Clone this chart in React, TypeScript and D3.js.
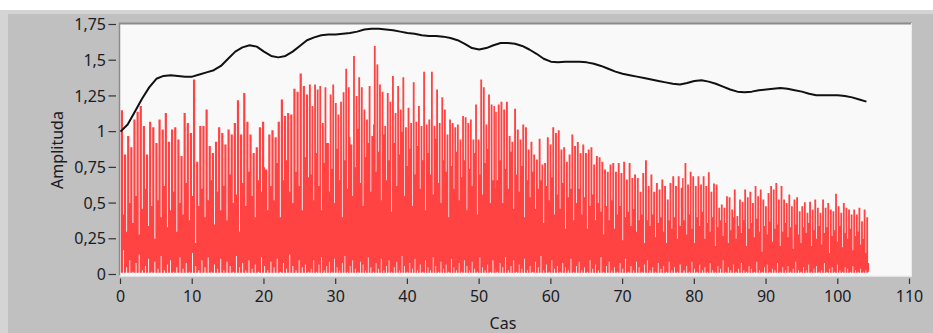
import React from "react";
import * as d3 from "d3";

// ---- data ----
const xTicks = [0, 10, 20, 30, 40, 50, 60, 70, 80, 90, 100, 110];
const yTicks = [0, 0.25, 0.5, 0.75, 1, 1.25, 1.5, 1.75];
const yTickLabels = ["0", "0,25", "0,5", "0,75", "1", "1,25", "1,5", "1,75"];
const xLabel = "Cas";
const yLabel = "Amplituda";

// black envelope, one value per time unit 0..104
const envelope = [
  1.0, 1.05, 1.14, 1.23, 1.31, 1.37, 1.39, 1.395, 1.39, 1.385,
  1.385, 1.4, 1.415, 1.43, 1.46, 1.51, 1.56, 1.59, 1.605, 1.595,
  1.56, 1.53, 1.52, 1.53, 1.56, 1.6, 1.64, 1.66, 1.675, 1.68,
  1.68, 1.685, 1.69, 1.7, 1.715, 1.72, 1.72, 1.715, 1.71, 1.7,
  1.69, 1.685, 1.675, 1.67, 1.67, 1.665, 1.655, 1.64, 1.615, 1.585,
  1.575, 1.585, 1.605, 1.62, 1.62, 1.615, 1.6, 1.575, 1.545, 1.51,
  1.49, 1.485, 1.49, 1.49, 1.49, 1.485, 1.475, 1.46, 1.44, 1.42,
  1.405, 1.395, 1.385, 1.375, 1.365, 1.355, 1.345, 1.335, 1.33, 1.34,
  1.355, 1.36, 1.35, 1.335, 1.315, 1.295, 1.28, 1.275, 1.28, 1.29,
  1.295, 1.3, 1.305, 1.3, 1.29, 1.28, 1.265, 1.255, 1.255, 1.255,
  1.255, 1.25, 1.24, 1.225, 1.21,
];

// red signal: spike tops, gap tops (valleys) and gap bottoms (lows), in four time segments
const segA = [0.2, 26.0];
const peaksA = [
  1.15, 0.84, 0.97, 0.89, 1.085, 1.14, 1.18, 1.04, 0.84, 1.07,
  1.03, 0.92, 1.085, 1.015, 1.13, 0.93, 1.015, 1.03, 0.945, 0.83,
  1.13, 1.06, 0.99, 1.365, 0.79, 1.04, 1.04, 1.155, 0.9, 0.85,
  0.93, 1.03, 0.99, 0.91, 1.015, 0.98, 1.06, 1.22, 0.98, 1.27,
  1.07, 0.98, 0.85, 0.89, 1.03, 1.07, 0.735, 0.98, 1.01, 0.96,
  1.07, 1.225, 1.11, 1.13, 1.12, 1.3, 1.28, 1.407, 1.32, 1.26,
];
const valleysA = [
  0.42, 0.3, 0.5, 0.36, 0.55, 0.28, 0.46, 0.6, 0.34, 0.48,
  0.25, 0.52, 0.4, 0.62, 0.33, 0.45, 0.58, 0.3, 0.5, 0.42,
  0.64, 0.38, 0.55, 0.22, 0.48, 0.6, 0.4, 0.52, 0.66, 0.35,
  0.58, 0.45, 0.62, 0.38, 0.7, 0.5, 0.56, 0.3, 0.64, 0.48,
  0.72, 0.55, 0.4, 0.66, 0.58, 0.75, 0.45, 0.62, 0.52, 0.78,
  0.4, 0.66, 0.8, 0.58, 0.5, 0.72, 0.62, 0.45, 0.82, 0.68,
];
const lowsA = [
  0.17, 0.05, 0.1, 0.02, 0.08, 0.14, 0.03, 0.06, 0.11, 0.02,
  0.09, 0.04, 0.13, 0.03, 0.07, 0.1, 0.02, 0.05, 0.12, 0.04,
  0.08, 0.02, 0.15, 0.06, 0.03, 0.1, 0.05, 0.12, 0.02, 0.07,
  0.04, 0.11, 0.03, 0.09, 0.06, 0.02, 0.13, 0.05, 0.08, 0.03,
  0.1, 0.04, 0.07, 0.02, 0.12, 0.06, 0.03, 0.09, 0.05, 0.11,
  0.02, 0.08, 0.04, 0.14, 0.06, 0.03, 0.1, 0.05, 0.07, 0.02,
];

const segB = [26.4, 52.1];
const peaksB = [
  1.33, 1.18, 1.33, 1.295, 1.32, 1.06, 1.31, 0.92, 1.26, 1.33,
  1.2, 1.12, 1.21, 1.276, 1.44, 1.31, 0.91, 1.53, 1.25, 1.38,
  1.31, 1.155, 1.085, 1.32, 0.97, 1.6, 1.47, 1.33, 1.28, 1.04,
  1.27, 1.21, 1.39, 1.13, 1.32, 1.155, 1.38, 1.03, 1.167, 1.06,
  1.346, 1.07, 1.18, 1.04, 1.42, 1.05, 1.085, 1.42, 1.04, 1.295,
  1.06, 1.24, 1.155, 0.98, 1.085, 1.06, 1.03, 1.05, 0.945, 1.11,
  1.1, 1.06, 1.085, 0.945, 1.19, 0.945, 1.365, 1.31, 1.05, 1.26,
  1.19, 1.18,
];
const valleysB = [
  0.7, 0.52, 0.85, 0.62, 0.45, 0.78, 0.92, 0.58, 0.74, 0.5,
  0.88, 0.66, 0.4, 0.8, 0.6, 0.96, 0.55, 0.75, 1.02, 0.64,
  0.48, 0.82, 0.92, 0.58, 1.05, 0.72, 0.86, 0.52, 0.98, 0.66,
  0.8, 0.44, 0.92, 0.62, 0.84, 1.0, 0.55, 0.76, 0.88, 0.48,
  0.7, 0.9, 0.6, 0.8, 0.45, 0.85, 0.7, 0.56, 0.95, 0.64,
  0.5, 0.8, 0.72, 0.4, 0.76, 0.6, 0.86, 0.52, 0.68, 0.8,
  0.45, 0.74, 0.62, 0.85, 0.42, 0.7, 0.56, 0.78, 0.88, 0.5,
  0.66, 0.6,
];
const lowsB = [
  0.04, 0.1, 0.02, 0.07, 0.12, 0.03, 0.06, 0.09, 0.02, 0.11,
  0.05, 0.03, 0.08, 0.13, 0.02, 0.06, 0.1, 0.04, 0.02, 0.09,
  0.07, 0.03, 0.12, 0.05, 0.02, 0.08, 0.04, 0.11, 0.03, 0.06,
  0.1, 0.02, 0.05, 0.09, 0.03, 0.13, 0.06, 0.02, 0.08, 0.04,
  0.11, 0.03, 0.07, 0.02, 0.1, 0.05, 0.03, 0.12, 0.06, 0.02,
  0.09, 0.04, 0.07, 0.02, 0.11, 0.05, 0.03, 0.08, 0.02, 0.1,
  0.06, 0.03, 0.09, 0.04, 0.02, 0.12, 0.05, 0.03, 0.07, 0.02,
  0.1, 0.04,
];

const segC = [52.35, 78.2];
const peaksC = [
  1.14, 1.19, 1.21, 1.155, 1.21, 0.97, 0.93, 1.16, 1.015, 0.945,
  1.05, 1.03, 0.875, 0.93, 0.84, 0.805, 0.95, 0.77, 0.78, 0.96,
  0.91, 1.03, 0.99, 1.01, 0.875, 0.89, 0.79, 0.84, 0.98, 0.9,
  0.927, 0.85, 0.91, 0.85, 0.875, 0.89, 0.77, 0.83, 0.82, 0.79,
  0.735, 0.72, 0.77, 0.78, 0.72, 0.78, 0.71, 0.79, 0.665, 0.78,
  0.675, 0.7, 0.675, 0.58, 0.71, 0.8, 0.62, 0.7, 0.58, 0.64,
  0.595, 0.665, 0.62, 0.525, 0.64, 0.688, 0.62, 0.688, 0.607,
];
const valleysC = [
  0.66, 0.8, 0.5, 0.74, 0.6, 0.86, 0.46, 0.7, 0.58, 0.76,
  0.4, 0.66, 0.54, 0.72, 0.46, 0.6, 0.66, 0.36, 0.62, 0.52,
  0.68, 0.42, 0.56, 0.46, 0.64, 0.32, 0.54, 0.6, 0.38, 0.5,
  0.6, 0.42, 0.54, 0.32, 0.48, 0.56, 0.38, 0.5, 0.44, 0.28,
  0.48, 0.38, 0.52, 0.32, 0.42, 0.48, 0.24, 0.4, 0.44, 0.34,
  0.46, 0.3, 0.38, 0.42, 0.22, 0.38, 0.34, 0.42, 0.26, 0.36,
  0.4, 0.3, 0.22, 0.38, 0.32, 0.4, 0.25, 0.34, 0.3,
];
const lowsC = [
  0.02, 0.08, 0.05, 0.12, 0.03, 0.06, 0.1, 0.02, 0.07, 0.04,
  0.11, 0.03, 0.06, 0.02, 0.09, 0.05, 0.13, 0.03, 0.07, 0.02,
  0.1, 0.04, 0.06, 0.02, 0.08, 0.05, 0.03, 0.11, 0.02, 0.06,
  0.09, 0.03, 0.05, 0.02, 0.1, 0.04, 0.07, 0.03, 0.12, 0.02,
  0.06, 0.09, 0.03, 0.05, 0.02, 0.08, 0.04, 0.11, 0.02, 0.06,
  0.03, 0.09, 0.05, 0.02, 0.07, 0.1, 0.03, 0.05, 0.02, 0.08,
  0.04, 0.06, 0.02, 0.09, 0.03, 0.05, 0.02, 0.07, 0.04,
];

const segD = [78.4, 104.1];
const peaksD = [
  0.675, 0.78, 0.63, 0.72, 0.688, 0.62, 0.688, 0.63, 0.688, 0.62,
  0.716, 0.58, 0.637, 0.63, 0.467, 0.49, 0.467, 0.548, 0.54, 0.455,
  0.595, 0.41, 0.525, 0.51, 0.595, 0.54, 0.58, 0.5, 0.62, 0.548,
  0.595, 0.525, 0.478, 0.57, 0.62, 0.595, 0.64, 0.525, 0.62, 0.525,
  0.5, 0.56, 0.478, 0.525, 0.54, 0.443, 0.478, 0.505, 0.432, 0.51,
  0.455, 0.525, 0.467, 0.432, 0.525, 0.467, 0.5, 0.455, 0.443, 0.565,
  0.478, 0.432, 0.5, 0.467, 0.455, 0.42, 0.455, 0.42, 0.467, 0.373,
  0.455, 0.4,
];
const valleysD = [
  0.38, 0.28, 0.42, 0.32, 0.22, 0.4, 0.34, 0.44, 0.25, 0.36,
  0.3, 0.4, 0.2, 0.33, 0.38, 0.27, 0.36, 0.22, 0.31, 0.4,
  0.25, 0.34, 0.29, 0.38, 0.2, 0.32, 0.36, 0.26, 0.39, 0.3,
  0.16, 0.34, 0.28, 0.37, 0.23, 0.32, 0.35, 0.2, 0.3, 0.36,
  0.26, 0.33, 0.18, 0.35, 0.28, 0.22, 0.33, 0.29, 0.36, 0.2,
  0.31, 0.25, 0.34, 0.21, 0.29, 0.33, 0.15, 0.27, 0.31, 0.23,
  0.34, 0.19, 0.29, 0.25, 0.32, 0.17, 0.27, 0.3, 0.21, 0.25,
  0.15, 0.08,
];
const lowsD = [
  0.03, 0.06, 0.02, 0.09, 0.04, 0.02, 0.07, 0.03, 0.05, 0.02,
  0.08, 0.03, 0.02, 0.06, 0.04, 0.1, 0.02, 0.05, 0.03, 0.07,
  0.02, 0.04, 0.08, 0.03, 0.02, 0.06, 0.04, 0.02, 0.09, 0.03,
  0.02, 0.05, 0.07, 0.02, 0.04, 0.03, 0.08, 0.02, 0.05, 0.03,
  0.06, 0.02, 0.04, 0.09, 0.03, 0.02, 0.05, 0.03, 0.07, 0.02,
  0.04, 0.06, 0.02, 0.03, 0.08, 0.02, 0.04, 0.05, 0.02, 0.07,
  0.03, 0.02, 0.05, 0.04, 0.02, 0.06, 0.03, 0.02, 0.04, 0.02,
  0.03, 0.02,
];

const segments = [
  { range: segA, peaks: peaksA, valleys: valleysA, lows: lowsA },
  { range: segB, peaks: peaksB, valleys: valleysB, lows: lowsB },
  { range: segC, peaks: peaksC, valleys: valleysC, lows: lowsC },
  { range: segD, peaks: peaksD, valleys: valleysD, lows: lowsD },
];

// ---- layout ----
const W = 933;
const H = 333;
const FONT = "'Segoe UI', 'Noto Sans', sans-serif";
const TEXT = "#1b1b24";

export default function App() {
  const x = d3.scaleLinear().domain([0, 110]).range([120.5, 909.5]);
  const y = d3.scaleLinear().domain([0, 1.75]).range([274.5, 24.5]);

  const spikes: { t: number; peak: number; valley: number; low: number }[] = [];
  segments.forEach((s) => {
    const n = s.peaks.length;
    s.peaks.forEach((p, i) => {
      const t = s.range[0] + ((s.range[1] - s.range[0]) * i) / (n - 1);
      spikes.push({ t, peak: p, valley: Math.max(s.valleys[i], s.lows[i] + 0.03), low: s.lows[i] });
    });
  });

  const pts: { px: number; lo: number; hi: number }[] = [];
  const base = 0.012;
  spikes.forEach((s, i) => {
    const cx = x(s.t);
    const nx = i < spikes.length - 1 ? x(spikes[i + 1].t) : cx + (cx - x(spikes[i - 1].t));
    const px0 = i > 0 ? x(spikes[i - 1].t) : cx - (nx - cx);
    const half = ((nx - px0) / 2) * 0.35;
    pts.push({ px: cx - half, lo: base, hi: s.peak });
    pts.push({ px: cx + half, lo: s.low, hi: s.valley });
  });
  const last = pts[pts.length - 1];
  pts.push({ px: last.px + 1, lo: last.lo, hi: last.hi });

  const area = d3
    .area<{ px: number; lo: number; hi: number }>()
    .x((d) => d.px)
    .y0((d) => y(d.lo))
    .y1((d) => y(d.hi))
    .curve(d3.curveStepAfter);

  const line = d3
    .line<number>()
    .x((_, i) => x(i))
    .y((d) => y(d));

  const plotL = 119;
  const plotR = 912;
  const plotT = 23;
  const plotB = 276.5;

  return (
    <svg
      width={W}
      height={H}
      style={{ position: "absolute", left: 0, top: 0, display: "block" }}
      fontFamily={FONT}
    >
      <rect x={0} y={0} width={W} height={H} fill="#ffffff" />
      <rect x={0} y={10} width={W} height={H - 10} fill="#c0c0c0" />
      <rect x={0} y={10} width={W} height={4} fill="#d4d4d4" />
      <rect x={0} y={10} width={8} height={H - 10} fill="#d4d4d4" />

      <rect x={plotL} y={plotT} width={plotR - plotL} height={plotB - plotT} fill="#f9f9f9" />
      <line x1={plotL} x2={plotR} y1={plotT + 0.5} y2={plotT + 0.5} stroke="#8c8c8c" strokeWidth={2} />
      <line x1={plotL + 0.5} x2={plotL + 0.5} y1={plotT} y2={plotB} stroke="#8c8c8c" strokeWidth={1.5} />
      <line x1={plotR - 0.5} x2={plotR - 0.5} y1={plotT} y2={plotB} stroke="#ececec" strokeWidth={1} />
      <line x1={plotL} x2={plotR} y1={plotB - 0.5} y2={plotB - 0.5} stroke="#ececec" strokeWidth={1} />

      <path d={area(pts) || ""} fill="#ff4242" />
      <path d={line(envelope) || ""} fill="none" stroke="#111111" strokeWidth={2} strokeLinejoin="round" />

      {yTicks.map((v, i) => (
        <g key={"y" + v}>
          <line x1={108.5} x2={116} y1={y(v)} y2={y(v)} stroke="#333" strokeWidth={1.2} />
          <text x={106} y={y(v)} dy="0.35em" textAnchor="end" fontSize={16} fill={TEXT}>
            {yTickLabels[i]}
          </text>
        </g>
      ))}
      {xTicks.map((v) => (
        <g key={"x" + v}>
          <line x1={x(v)} x2={x(v)} y1={278.5} y2={284} stroke="#333" strokeWidth={1.2} />
          <text x={x(v)} y={302} textAnchor="middle" fontSize={16} fill={TEXT}>
            {v}
          </text>
        </g>
      ))}
      <text x={503} y={328.5} textAnchor="middle" fontSize={16} fill={TEXT}>
        {xLabel}
      </text>
      <text
        transform={`translate(57,150) rotate(-90)`}
        dy="0.35em"
        textAnchor="middle"
        fontSize={16}
        fill={TEXT}
      >
        {yLabel}
      </text>
    </svg>
  );
}
